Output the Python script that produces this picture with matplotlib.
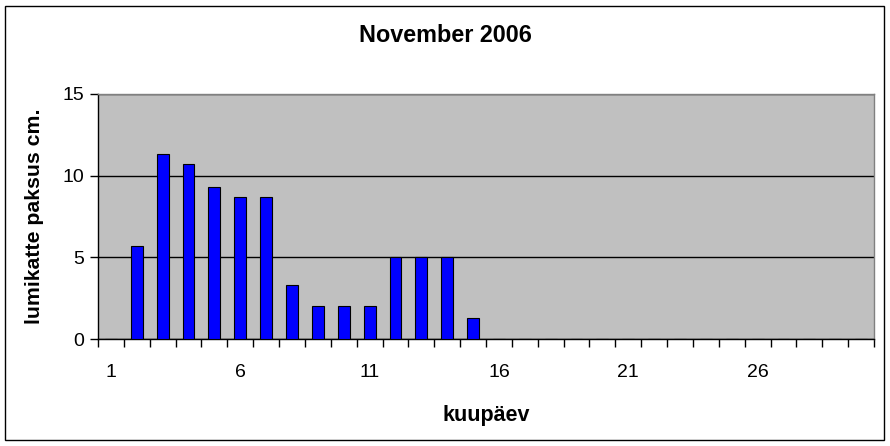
import matplotlib
matplotlib.use('Agg')
import matplotlib.pyplot as plt
from matplotlib.patches import Rectangle
import numpy as np

plt.rcParams['font.family'] = ['Liberation Sans', 'DejaVu Sans']

# snow depth per day, November 2006
days = list(range(1, 31))
depth = [0, 5.7, 11.3, 10.7, 9.3, 8.7, 8.7, 3.3, 2, 2, 2, 5, 5, 5, 1.3,
         0, 0, 0, 0, 0, 0, 0, 0, 0, 0, 0, 0, 0, 0, 0]
y_ticks = [0, 5, 10, 15]
x_labels = [1, 6, 11, 16, 21, 26]

fig = plt.figure(figsize=(8.9, 4.46), dpi=100)
ax = fig.add_axes([98 / 890, 1 - 339 / 446, (874 - 98) / 890, (339 - 94) / 446])
ax.set_facecolor('#c0c0c0')

ax.bar(days, depth, width=0.46, color='#0000ff', edgecolor='black', linewidth=0.8, zorder=3)

ax.set_xlim(0.5, 30.5)
ax.set_ylim(0, 15)
ax.set_yticks(y_ticks)
ax.yaxis.grid(True, color='black', linewidth=1, zorder=1)
ax.set_axisbelow(True)

ax.set_xticks(x_labels)
ax.set_xticklabels([str(d) for d in x_labels])
ax.set_xticks(np.arange(0.5, 31, 1), minor=True)
ax.tick_params(axis='x', which='major', length=0, pad=18, labelsize=14)
ax.tick_params(axis='x', which='minor', length=6, width=1, direction='out')
ax.tick_params(axis='y', length=6, width=1, direction='out', labelsize=14, pad=4)

for s in ['left', 'bottom']:
    ax.spines[s].set_color('black')
    ax.spines[s].set_linewidth(1)
for s in ['top', 'right']:
    ax.spines[s].set_color('#808080')
    ax.spines[s].set_linewidth(1)

ax.set_xlabel('kuupäev', fontsize=15.5, fontweight='bold', labelpad=17)
ax.set_ylabel('lumikatte paksus cm.', fontsize=15.3, fontweight='bold', labelpad=13)
fig.text(0.5, 1 - 36 / 446, 'November 2006', ha='center', va='center',
         fontsize=16.8, fontweight='bold')

fig.patches.append(Rectangle((5 / 890, 1 - 440 / 446), 879 / 890, 434 / 446,
                             transform=fig.transFigure, fill=False,
                             edgecolor='black', linewidth=1))

fig.savefig('out.png', dpi=100)
